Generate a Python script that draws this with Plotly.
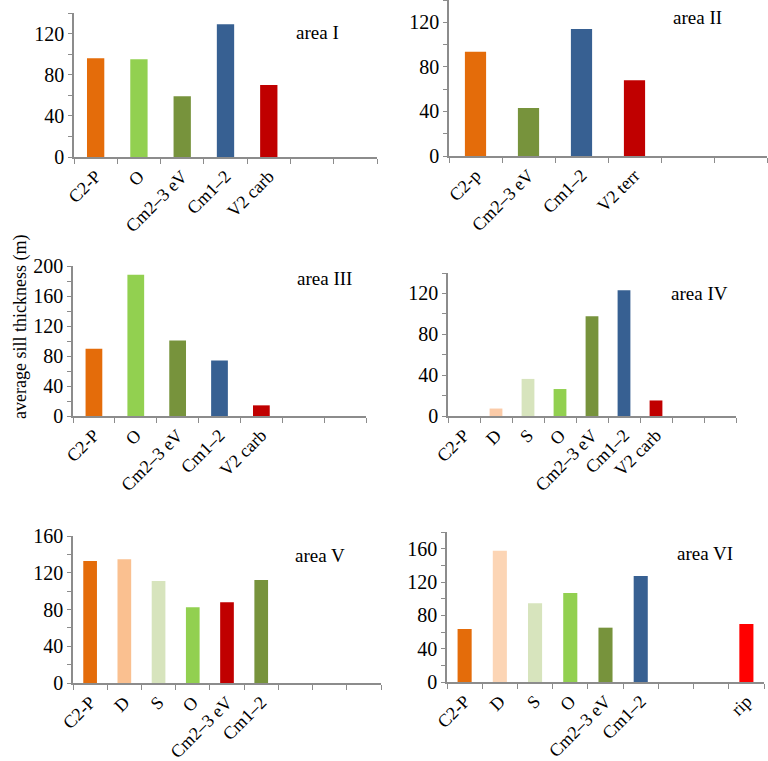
import plotly.graph_objects as go

# ---- data ----
area_names = ["area I", "area II", "area III", "area IV", "area V", "area VI"]

cats_I = ["C2-P", "O", "Cm2\u20133 eV", "Cm1\u20132", "V2 carb", "", ""]
vals_I = [96, 95, 59, 129, 70, None, None]
cols_I = ["#E46C0A", "#92D050", "#77933C", "#376092", "#C00000", "#FFFFFF", "#FFFFFF"]

cats_II = ["C2-p", "Cm2\u20133 eV", "Cm1\u20132", "V2 terr", "", ""]
vals_II = [93.5, 43, 114, 68, None, None]
cols_II = ["#E46C0A", "#77933C", "#376092", "#C00000", "#FFFFFF", "#FFFFFF"]

cats_III = ["C2-P", "O", "Cm2\u20133 eV", "Cm1\u20132", "V2 carb", "", ""]
vals_III = [89.6, 188.5, 100.7, 74, 14.2, None, None]
cols_III = ["#E46C0A", "#92D050", "#77933C", "#376092", "#C00000", "#FFFFFF", "#FFFFFF"]

cats_IV = ["C2-P", "D", "S", "O", "Cm2\u20133 eV", "Cm1\u20132", "V2 carb", "", ""]
vals_IV = [0, 7.3, 36.3, 26.4, 97.6, 123, 15.2, None, None]
cols_IV = ["#E46C0A", "#FBCBA8", "#D7E4BD", "#92D050", "#77933C", "#376092", "#C00000", "#FFFFFF", "#FFFFFF"]

cats_V = ["C2-P", "D", "S", "O", "Cm2\u20133 eV", "Cm1\u20132", "", "", ""]
vals_V = [132.9, 134.7, 111.1, 82.5, 88, 112.2, None, None, None]
cols_V = ["#E46C0A", "#FAC090", "#D7E4BD", "#92D050", "#C00000", "#77933C", "#FFFFFF", "#FFFFFF", "#FFFFFF"]

cats_VI = ["C2-P", "D", "S", "O", "Cm2\u20133 eV", "Cm1\u20132", "", "", "rip"]
vals_VI = [63.6, 157.6, 94.4, 106.8, 65.2, 127.2, None, None, 69.6]
cols_VI = ["#E46C0A", "#FCD5B5", "#D7E4BD", "#92D050", "#77933C", "#376092", "#FFFFFF", "#FFFFFF", "#FF0000"]

y_max = [140, 140, 200, 140, 160, 180]
y_major_step = 40
y_minor_step = 20

y_title = "average sill thickness (m)"

# ---- layout geometry (pixels) ----
W, H = 768, 761
# (x0, x1, ytop, ybottom) of each plot area in pixels
boxes = [
    (74, 377, 13, 157),
    (449, 767, 0, 156),
    (73, 366, 266, 416),
    (448, 736, 273, 416),
    (73, 381, 536, 683),
    (447, 764, 532, 682),
]
label_pos = [(317, 32), (697, 18), (324, 278), (699, 293), (320, 555), (705, 553)]

panels = [
    (cats_I, vals_I, cols_I),
    (cats_II, vals_II, cols_II),
    (cats_III, vals_III, cols_III),
    (cats_IV, vals_IV, cols_IV),
    (cats_V, vals_V, cols_V),
    (cats_VI, vals_VI, cols_VI),
]

FONT = "Liberation Serif, Times New Roman, serif"
AX = "#8C8C8C"

fig = go.Figure()
layout = dict(
    width=W, height=H,
    margin=dict(l=0, r=0, t=0, b=0, autoexpand=False),
    paper_bgcolor="white", plot_bgcolor="white",
    showlegend=False,
    font=dict(family=FONT, color="black", size=18),
    annotations=[],
)

for i, ((cats, vals, cols), box, lp, ym) in enumerate(zip(panels, boxes, label_pos, y_max)):
    n = len(cats)
    idx = "" if i == 0 else str(i + 1)
    xs = list(range(n))
    fig.add_trace(go.Bar(
        x=xs, y=vals, marker=dict(color=cols, line=dict(width=0)),
        width=0.4, xaxis="x" + idx, yaxis="y" + idx, hoverinfo="x+y",
    ))
    x0, x1, yt, yb = box
    layout["xaxis" + idx] = dict(
        domain=[x0 / W, x1 / W], anchor="y" + idx, automargin=False,
        range=[-0.5, n - 0.5], tickmode="array",
        tickvals=xs, ticktext=cats, tickangle=-45, ticks="",
        showline=True, linecolor=AX, linewidth=1.5,
        showgrid=False, zeroline=False,
        tickfont=dict(family=FONT, size=18, color="black"),
        minor=dict(ticks="outside", tick0=-0.5, dtick=1, ticklen=5, tickcolor=AX, tickwidth=1, showgrid=False),
        fixedrange=True,
    )
    layout["yaxis" + idx] = dict(
        domain=[1 - yb / H, 1 - yt / H], anchor="x" + idx, automargin=False,
        range=[0, ym], tickmode="linear", tick0=0, dtick=y_major_step,
        ticks="outside", ticklen=4, tickcolor=AX, tickwidth=1,
        showline=True, linecolor=AX, linewidth=1.5,
        showgrid=False, zeroline=False,
        tickfont=dict(family=FONT, size=20, color="black"),
        minor=dict(ticks="outside", dtick=y_minor_step, ticklen=4, tickcolor=AX, tickwidth=1, showgrid=False),
        fixedrange=True,
    )
    layout["annotations"].append(dict(
        text=area_names[i], x=lp[0] / W, y=1 - lp[1] / H, xref="paper", yref="paper",
        showarrow=False, xanchor="center", yanchor="middle",
        font=dict(family=FONT, size=19, color="black"),
    ))

layout["annotations"].append(dict(
    text=y_title, x=20 / W, y=1 - 327 / H, xref="paper", yref="paper",
    showarrow=False, xanchor="center", yanchor="middle", textangle=-90,
    font=dict(family=FONT, size=18, color="black"),
))

fig.update_layout(**layout)
fig.write_html(
    "out.html",
    config={"displayModeBar": False},
    post_script="document.body.style.margin='0px';document.body.style.overflow='hidden';",
)
